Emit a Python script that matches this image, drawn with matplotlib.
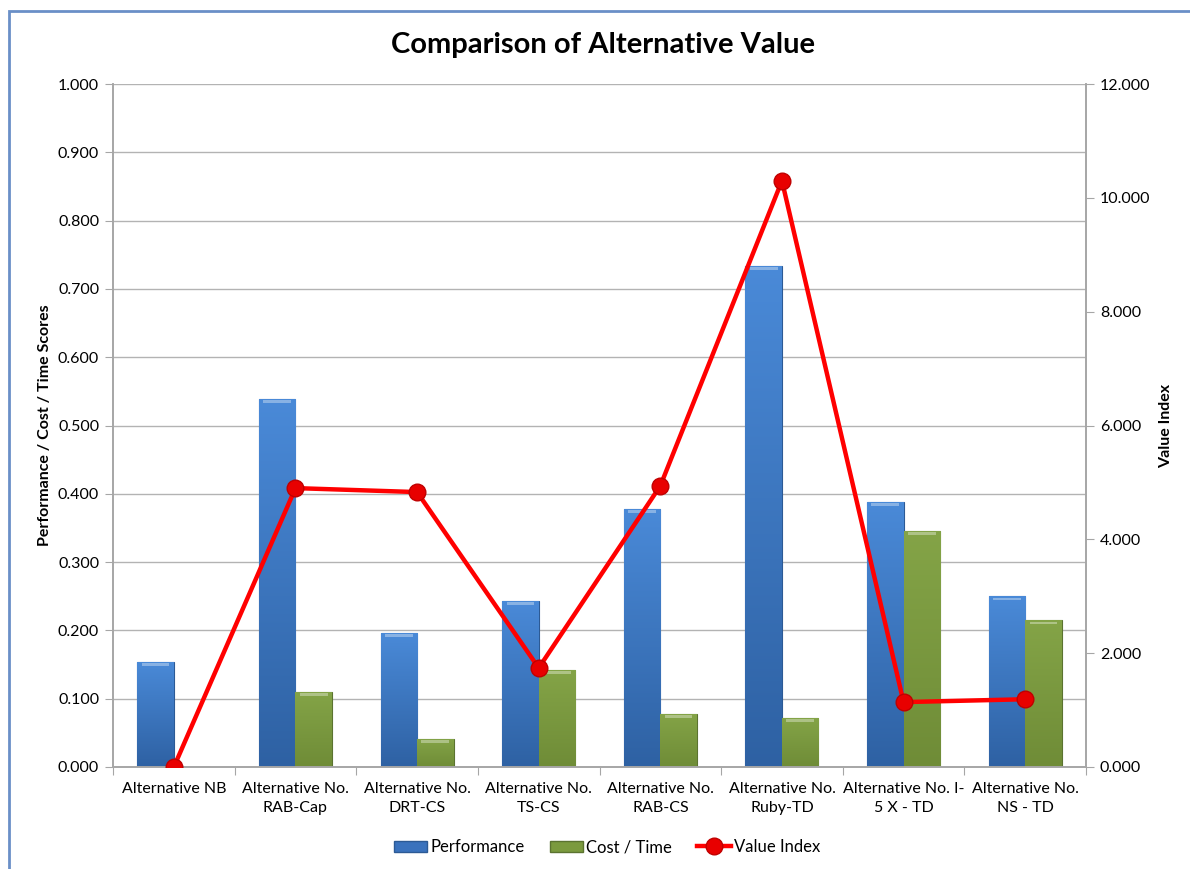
import matplotlib.pyplot as plt
import matplotlib.patches as mpatches
from matplotlib.lines import Line2D
from matplotlib.colors import LinearSegmentedColormap
import numpy as np

plt.rcParams['font.family'] = ['Lato', 'DejaVu Sans']

# Data
alternatives = ['Alternative NB', 'Alternative No.\nRAB-Cap', 'Alternative No.\nDRT-CS',
                'Alternative No.\nTS-CS', 'Alternative No.\nRAB-CS', 'Alternative No.\nRuby-TD',
                'Alternative No. I-\n5 X - TD', 'Alternative No.\nNS - TD']
performance = [0.154, 0.539, 0.196, 0.243, 0.378, 0.734, 0.388, 0.250]
cost_time = [0.000, 0.110, 0.041, 0.142, 0.078, 0.072, 0.346, 0.215]
value_index = [0.000, 4.90, 4.83, 1.74, 4.94, 10.30, 1.14, 1.19]

fig = plt.figure(figsize=(11.9, 8.69), dpi=100)
ax = fig.add_axes([0.095, 0.1174, 0.8176, 0.7859])
ax2 = ax.twinx()

x = np.arange(len(alternatives))
width = 0.3


def shade_bars(bars, light, dark):
    # vertical gradient inside each bar, lighter at the top
    grad = np.linspace(0, 1, 256).reshape(-1, 1)
    cmap = LinearSegmentedColormap.from_list('b', [dark, light])
    for b in bars:
        h = b.get_height()
        if h <= 0:
            continue
        x0 = b.get_x()
        im = ax.imshow(grad, extent=(x0, x0 + b.get_width(), 0, h), origin='lower',
                       cmap=cmap, aspect='auto', zorder=2)
        im.set_clip_path(b)
        # highlight strip at the top
        ax.add_patch(mpatches.Rectangle((x0 + b.get_width() * 0.12, h - 0.006),
                                        b.get_width() * 0.76, 0.004,
                                        color='white', alpha=0.35, lw=0, zorder=3))


perf_bars = ax.bar(x - width / 2, performance, width, color='#3a72bd',
                   edgecolor='#2c5a95', linewidth=0.8, zorder=2)
cost_bars = ax.bar(x + width / 2, cost_time, width, color='#7b9a3e',
                   edgecolor='#5b7330', linewidth=0.8, zorder=2)
shade_bars(perf_bars, '#4a8ad8', '#2e61a3')
shade_bars(cost_bars, '#84a447', '#6f8c37')

ax2.plot(x, value_index, color='#ff0000', linewidth=3.2, marker='o', markersize=12,
         markerfacecolor='#e80000', markeredgecolor='#c00000', zorder=5)

ax.set_xlim(-0.5, len(alternatives) - 0.5)
ax.set_ylim(0, 1.0)
ax2.set_ylim(0, 12)
ax.set_yticks(np.arange(0, 1.01, 0.1))
ax.set_yticklabels([f'{v:.3f}' for v in np.arange(0, 1.01, 0.1)])
ax2.set_yticks(np.arange(0, 12.1, 2))
ax2.set_yticklabels([f'{v:.3f}' for v in np.arange(0, 12.1, 2)])
ax.set_xticks(np.arange(-0.5, len(alternatives), 1.0), minor=False)
ax.set_xticklabels([])
ax.set_xticks(x, minor=True)
ax.set_xticklabels(alternatives, minor=True, fontsize=11.5, linespacing=1.45)
ax.tick_params(axis='x', which='minor', length=0, pad=11)
ax.tick_params(axis='x', which='major', length=6, color='#a6a6a6')
ax.tick_params(axis='y', length=6, color='#a6a6a6', labelsize=11.5, pad=4)
ax2.tick_params(axis='y', length=6, color='#a6a6a6', labelsize=11.5, pad=4)

ax.grid(axis='y', color='#b3b3b3', linewidth=1)
ax.set_axisbelow(True)
for a in (ax, ax2):
    a.spines['top'].set_visible(False)
    for s in ('left', 'right', 'bottom'):
        a.spines[s].set_color('#a6a6a6')
        a.spines[s].set_linewidth(1.2)

ax.set_ylabel('Performance / Cost / Time Scores', fontsize=11.5, fontweight='bold', labelpad=4)
ax2.set_ylabel('Value Index', fontsize=11.5, fontweight='bold', labelpad=6)
fig.text(0.507, 0.948, 'Comparison of Alternative Value', ha='center', va='center',
         fontsize=21, fontweight='bold')

handles = [mpatches.Patch(facecolor='#3a72bd', edgecolor='#2c5a95', label='Performance'),
           mpatches.Patch(facecolor='#7b9a3e', edgecolor='#5b7330', label='Cost / Time'),
           Line2D([], [], color='#ff0000', linewidth=3.2, marker='o', markersize=12,
                  markerfacecolor='#e80000', markeredgecolor='#c00000', label='Value Index')]
fig.legend(handles=handles, loc='center', bbox_to_anchor=(0.51, 0.025), ncol=3,
           frameon=False, fontsize=12, handlelength=2.0, handletextpad=0.2,
           columnspacing=1.5)

# outer chart frame
fig.patches.append(mpatches.Rectangle((9 / 1190, -0.01), 1.2, 1 - 11 / 869 + 0.01,
                                      transform=fig.transFigure, fill=False,
                                      edgecolor='#6a8fc7', linewidth=2))

fig.savefig('out.png', dpi=100)
